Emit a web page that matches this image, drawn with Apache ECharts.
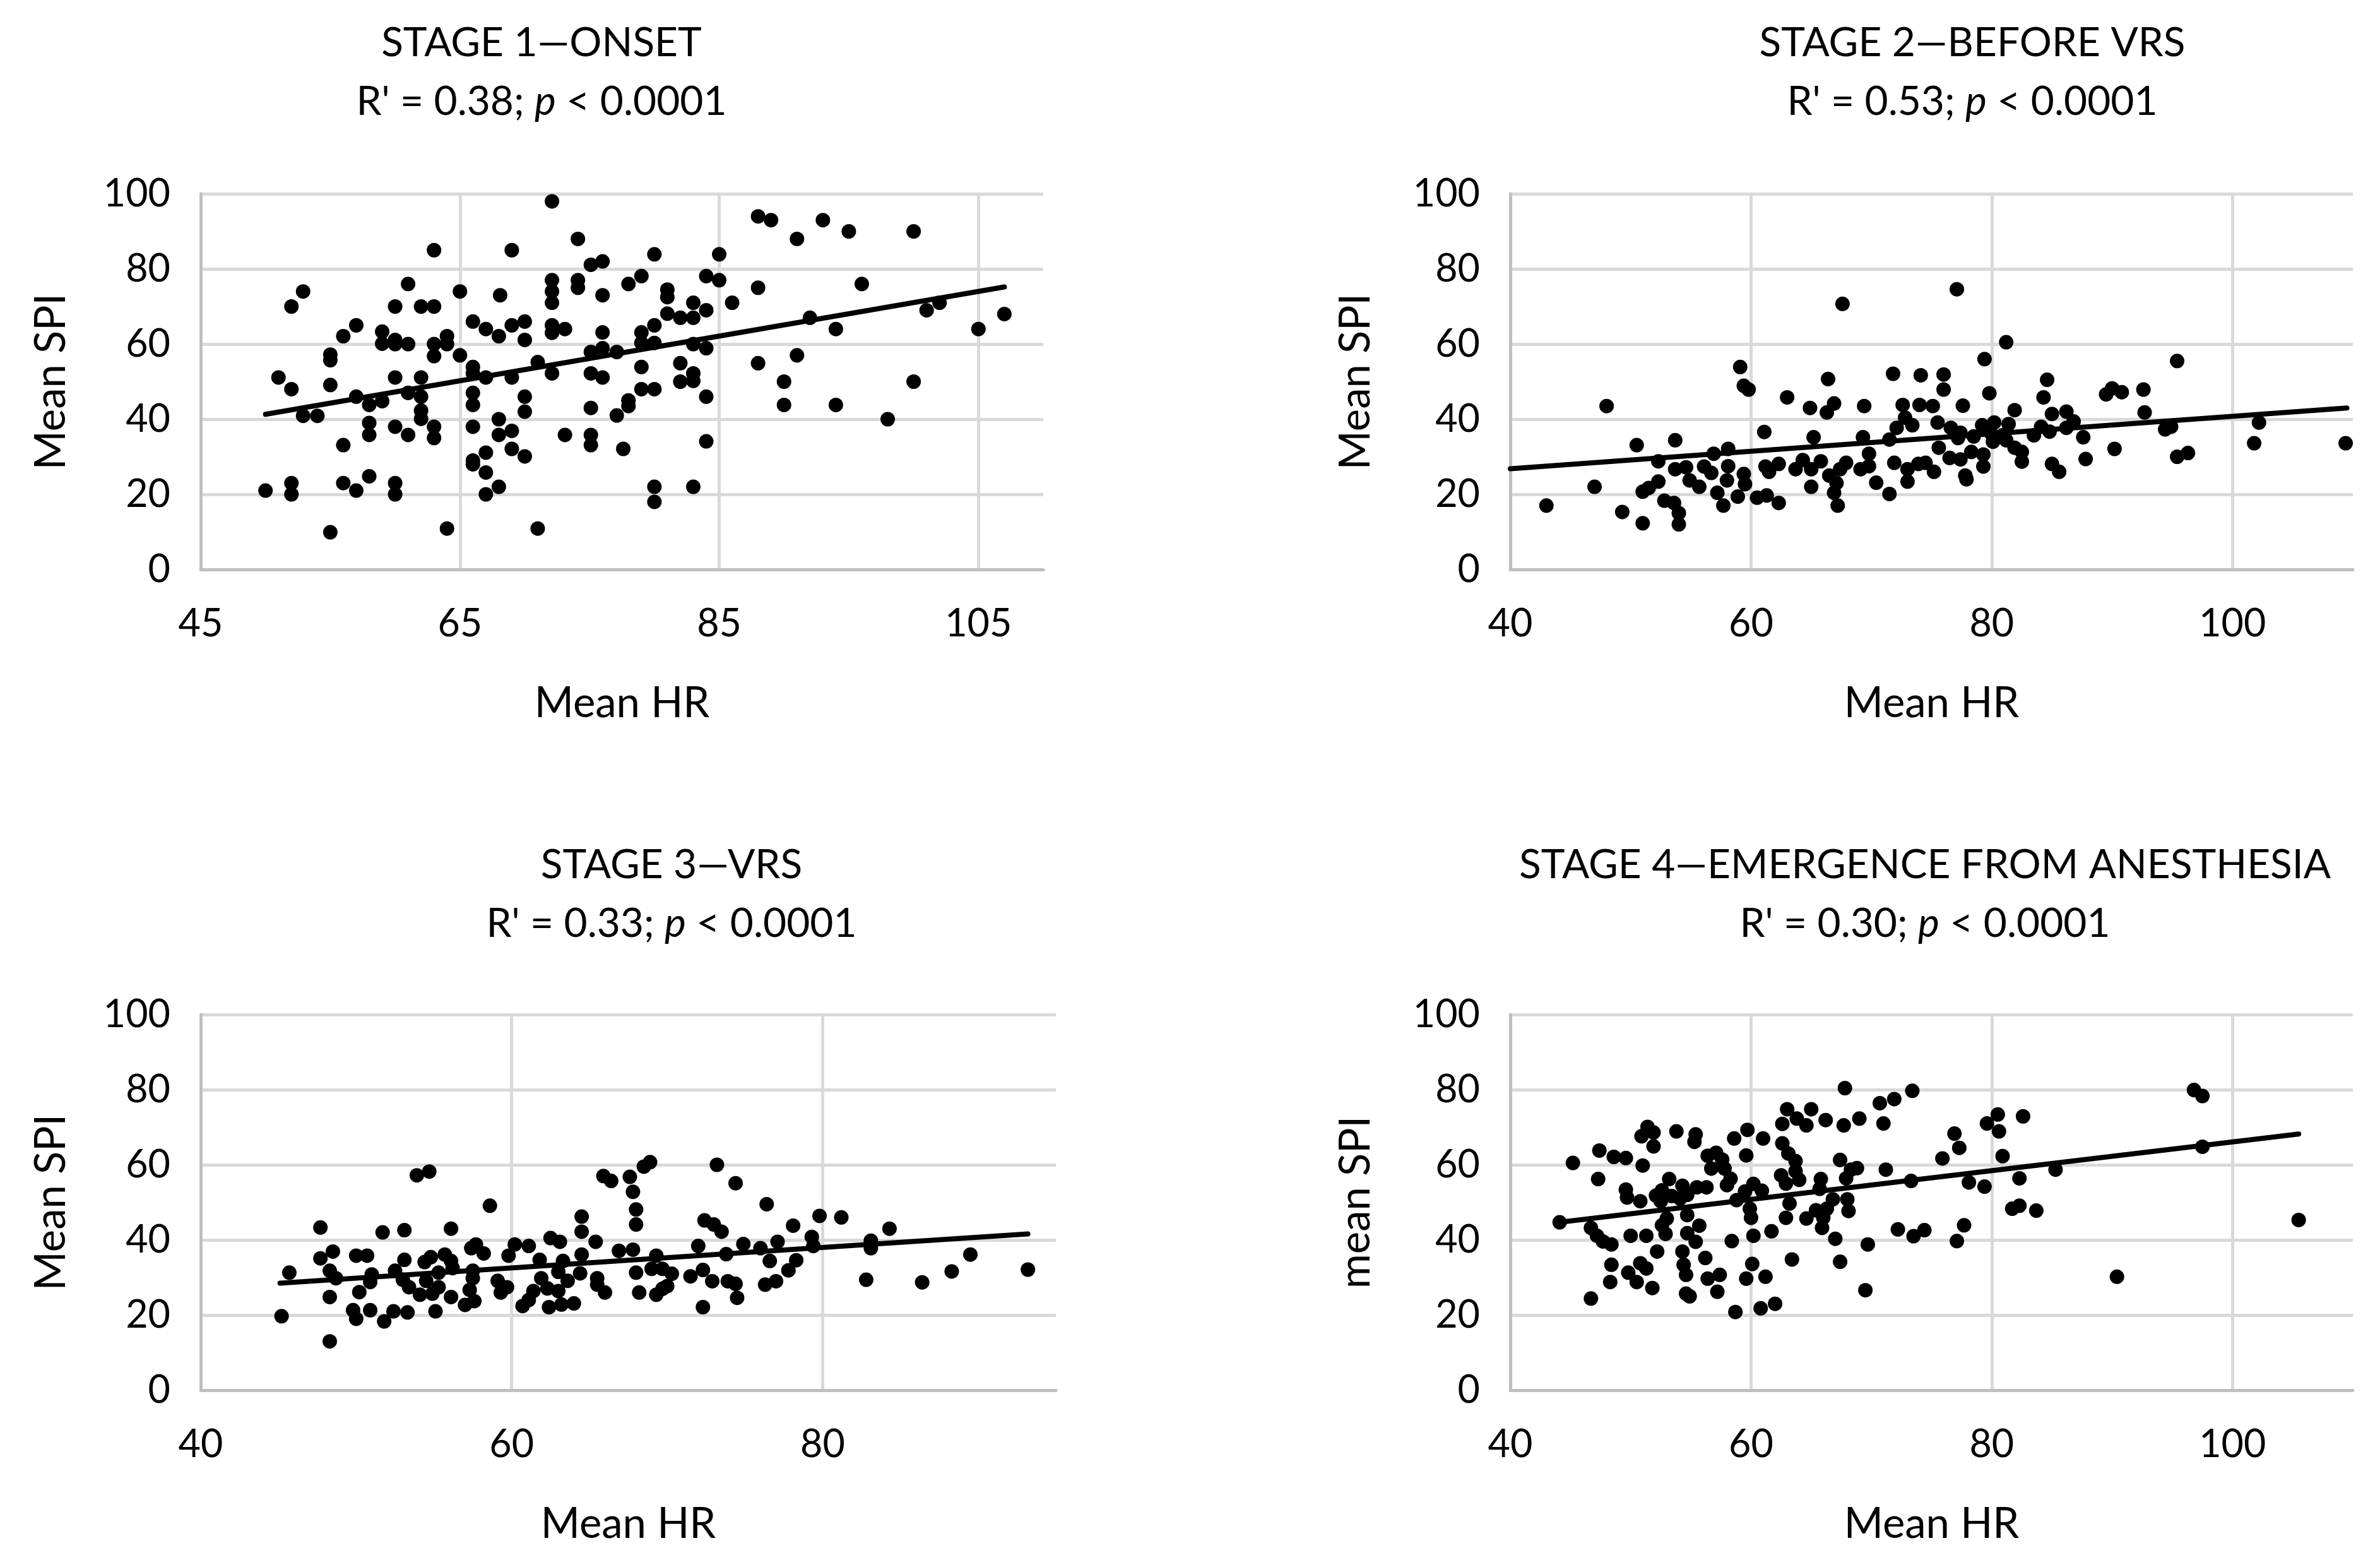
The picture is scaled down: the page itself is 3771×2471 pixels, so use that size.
<!DOCTYPE html>
<html><head><meta charset="utf-8">
<script src="https://cdn.jsdelivr.net/npm/echarts@6/dist/echarts.min.js"></script>
<style>html,body{margin:0;padding:0;background:#fff}#c{width:3771px;height:2471px}</style>
</head><body><div id="c"></div>
<script>
// ---------------- DATA ----------------
const panelTitles = ['STAGE 1\u2014ONSET', 'STAGE 2\u2014BEFORE VRS', 'STAGE 3\u2014VRS', 'STAGE 4\u2014EMERGENCE FROM ANESTHESIA'];
const rValues = ['0.38', '0.53', '0.33', '0.30'];
const pText = '0.0001';
const xAxisName = 'Mean HR';
const yAxisNames = ['Mean SPI', 'Mean SPI', 'Mean SPI', 'mean SPI'];
const xMins = [45, 40, 40, 40];
const xMaxs = [110, 110, 95, 110];
const xTickLabels = [[45, 65, 85, 105], [40, 60, 80, 100], [40, 60, 80], [40, 60, 80, 100]];
const yTickLabels = [0, 20, 40, 60, 80, 100];

const stage1Points = [
[72.1,98],[74.1,88],[63,85],[69,85],[75.1,81.1],[76,82],[72.1,77],[72.1,74],[72.1,71],[74.1,77],[74.1,75],[78,76],[61,76],[65,74],[68.1,73],[76,73],[52.9,74],[52,70],[60,70],[62,70],[63,70],[57,65],[56,62.1],[59,63.3],[59,60.1],[60,61.1],[60,60],[61,60],[63,60],[64,62.1],[64,60],[63,56.8],[65,57],[66,66],[67,64],[68,62.1],[69,65],[70,66],[70,61.1],[72.1,65],[72.1,63],[73.1,64],[76,63.1],[75.1,57.9],[76,58.9],[77.1,57.9],[55,57.2],[55,55.7],[51,51.1],[52,48],[55,49.1],[57,46],[58,43.8],[59,44.8],[60,51.1],[61,47],[62,51.1],[62,46],[66,53.9],[66,52.2],[67,51.1],[69,51.1],[71,55.2],[72.1,52.2],[75.1,52.2],[76,51.1],[66,47],[66,43.8],[70,46],[70,42],[75.1,43],[77.1,41],[52.9,40.9],[54,40.9],[58,39],[58,35.8],[60,38],[61,35.8],[62,42.3],[62,40.1],[63,38],[63,35],[66,38],[68,40],[68,35.8],[69,36.9],[69,32.1],[70,30.1],[67,31.1],[66,29],[66,28],[67,25.8],[67,20],[68,22],[73.1,35.8],[75.1,35.8],[75.1,33.1],[56,33.1],[50,21],[52,23],[52,20],[56,23],[57,21],[58,24.8],[60,23],[60,20],[55,9.9],[64,10.9],[71,10.9],
[79,78.1],[80,83.9],[85,83.9],[84,78.1],[85,77],[81,74.5],[81,72.5],[83,71],[84,69],[81,68.1],[82,67],[83,67],[80,65],[79,63.1],[79,60.3],[80,60.3],[83,60],[84,58.9],[86,71],[88,94],[89,93],[91,88],[93,93],[95,90],[100,90],[88,75],[96,76],[92,67],[94,64],[101,69],[102,71],[105,64],[107,68],[79,53.9],[82,54.9],[83,52.2],[83,50.2],[82,50],[79,48],[80,48],[78,45],[78,43.5],[84,46],[88,54.9],[91,57],[90,50],[90,43.8],[94,43.8],[100,50],[98,40],[77.6,32.1],[84,34.1],[80,22],[80,18],[83,22]
];
const stage2Points = [
[67.6,70.7],[59.1,53.9],[59.4,48.9],[59.8,47.9],[48,43.5],[63,45.8],[66.4,50.7],[64.9,43],[66.9,44.2],[66.3,41.8],[69.4,43.5],[71.8,52.1],[74.1,51.7],[76,51.9],[76,47.9],[72.6,43.8],[74,43.8],[75.1,43.5],[72.8,40.4],[73.4,38.4],[72.1,37.7],[75.5,39.1],[61.1,36.6],[65.2,35.2],[69.3,35.2],[71.5,34.6],[75.6,32.4],[50.5,33.1],[53.7,34.4],[58.1,32.1],[56.9,30.8],[52.3,28.8],[58.1,27.5],[53.7,26.7],[54.6,27.2],[56.1,27.4],[56.7,25.7],[54.9,23.7],[55.7,22],[58,23.7],[59.4,25.4],[59.5,22.7],[58.9,19.4],[57.2,20.4],[57.7,17],[52.3,23.4],[51.5,21.7],[51,20.7],[47,22],[43,17],[49.3,15.3],[51,12.3],[52.8,18.3],[53.6,17.7],[54,15],[54,12],[61.2,27.4],[62.3,28.1],[61.5,26],[60.5,19.1],[61.3,19.7],[62.3,17.7],[64.3,29.1],[63.7,26.7],[65,26.7],[65.8,28.8],[65,22],[66.5,25],[67.1,23],[66.9,20.4],[67.2,17],[67.9,28.4],[67.4,26.7],[69.1,26.7],[69.8,30.8],[69.8,27.5],[70.4,23.1],[71.5,20.1],[71.9,28.4],[73,26.7],[73,23.4],[73.9,28.1],[74.5,28.4],[75.2,26],
[77.1,74.6],[81.2,60.5],[79.4,56],[95.4,55.5],[79.8,46.9],[84.6,50.5],[84.3,45.8],[77.6,43.6],[81.9,42.4],[85,41.4],[86.2,42],[89.5,46.6],[90,48.2],[90.8,47.2],[92.6,47.9],[92.7,41.8],[102.2,39.1],[76.6,37.7],[77.4,36.4],[79.2,38.4],[80.2,39.1],[81.4,38.7],[79.9,36.4],[80.9,35.7],[84.1,38],[86.8,39.4],[86.2,37.7],[83.5,35.7],[84.8,36.7],[87.6,35.2],[77.2,35],[78.5,35.4],[80.1,34],[81.2,34.4],[81.9,32.4],[78.3,31.3],[79.3,30.6],[82.5,31.3],[82.5,28.7],[76.5,29.7],[77.4,29.3],[77.8,25],[77.9,24],[79.3,27.4],[85,28.1],[85.6,26],[87.8,29.4],[90.2,32.1],[94.4,37.3],[94.9,38],[95.4,30],[96.3,31],[101.8,33.6],[109.4,33.6]
];
const stage3Points = [
[53.9,57.2],[54.7,58.2],[58.6,49.1],[47.7,43.3],[51.7,42],[53.1,42.6],[56.1,43],[48.5,36.9],[47.7,35.1],[45.7,31.3],[48.3,31.8],[48.7,29.8],[50,35.8],[50.7,35.8],[51,30.8],[50.9,28.8],[50.2,26.1],[48.3,24.8],[45.2,19.7],[48.3,13],[49.8,21.3],[50,19],[50.9,21.3],[51.8,18.3],[52.4,21],[53.3,20.7],[55.1,21],[53.1,34.7],[52.5,31.8],[53,29.4],[53.4,27.4],[54.4,34.1],[54.8,35.4],[54.1,25.4],[54.9,25.7],[55.3,27.4],[55.7,36.1],[56.1,34.4],[55.3,31.3],[56.2,32.5],[54.5,29.1],[56.1,24.8],[57,22.7],[57.6,23.7],[57.3,26.7],[57.5,31.8],[57.5,29.8],[57.7,38.8],[57.4,37.8],[58.2,36.4],[59.1,29.1],[59.3,26],[59.7,27.4],[60.2,38.8],[59.8,35.8],[61.1,38.4],[60.7,22.4],[61.1,24],[62.5,40.5],[63.1,39.5],[64.5,46.2],[64.5,42.2],[65.4,39.5],[61.8,34.7],[63.3,34.4],[64.5,36.1],[61.9,29.8],[63,31.5],[63.6,29.1],[64.4,31.1],[65.5,29.8],[62.3,27.1],[63,26.4],[62.4,22.1],[63.2,22.8],[64,23.1],[61.4,26.4],[66,26],[65.5,28.1],[66.9,37.1],[65.9,57],[66.4,55.7],
[67.6,56.8],[68.5,59.5],[68.9,60.7],[67.8,52.8],[68,48.1],[68,44.1],[73.2,60],[74.4,55.1],[76.4,49.5],[72.4,45.2],[73,44.1],[73.5,42.2],[78.1,43.8],[79.8,46.4],[81.2,46],[84.3,43],[83.1,39.8],[83.1,37.8],[79.3,40.8],[79.4,38.4],[67.8,37.4],[72,38.4],[69.3,35.8],[74.9,38.9],[73.8,36.2],[76,37.8],[77.1,39.5],[76.6,34.4],[78.3,34.6],[77.8,31.9],[68,31.3],[69,32.3],[69.7,32.3],[70.3,31],[71.5,30.3],[72.3,32],[72.9,29],[73.9,29],[74.4,28.3],[70,27.7],[76.3,28.1],[77,29],[68.2,26],[69.3,25.4],[69.7,27],[74.5,24.6],[72.3,22.1],[82.8,29.4],[86.4,28.7],[88.3,31.6],[89.5,36.1],[93.2,32.1]
];
const stage4Points = [
[67.8,80.4],[73.4,79.7],[71.9,77.5],[70.7,76.4],[63,74.8],[65,74.8],[63.8,72.3],[66.2,71.9],[69,72.3],[62.6,70.9],[64.6,70.5],[67.7,70.5],[71,71],[51.4,70.1],[50.9,67.6],[51.9,68.6],[51.9,64.9],[53.8,68.9],[55.4,68.1],[55.3,66.1],[59.7,69.3],[58.6,67],[61,67],[59.6,62.5],[62.6,65.7],[63.1,63],[63.7,61],[67.4,61.3],[45.2,60.5],[47.4,63.8],[48.6,62.1],[49.6,61.8],[51,59.8],[47.3,56.2],[56.4,62.4],[57.1,63.2],[57.6,61.4],[56.7,59],[57.8,59],[58.3,56.3],[58,54.6],[62.5,57.2],[62.9,55],[63.7,58.3],[64,56],[65.8,56.2],[65.7,53.6],[68.3,58.7],[68.8,59.1],[67.9,56.4],[71.2,58.7],[73.3,55.7],[75.9,61.7],[49.6,53.4],[49.7,51.3],[50.8,50.3],[52.1,51.8],[53.2,56.2],[52.6,53.2],[53.4,51.7],[54.3,54.4],[54.7,52],[55.5,54],[56.3,54],[52.5,50.3],[54.1,51],[60.2,54.9],[60.9,53.1],[59.5,52.9],[58.8,50.6],[59.9,48.3],[63.2,49.7],[66.8,50.8],[68,50.8],[68.1,47.7],[66.3,48.3],[65.4,47.9],[64.6,45.7],[62.9,45.9],[66,45.9],[65.9,43.2],[60,45.9],[54.7,46.6],[53,45.7],[52.6,43.9],[44.1,44.7],[46.7,43.2],[47.2,41.1],[47.7,39.6],[48.4,38.8],[50,41.1],[51.3,41.1],[52.9,41.6],[54.7,41.8],[55.7,43.8],[55.4,39.5],[58.4,39.7],[60.2,41.1],[61.7,42.3],[67,40.3],[69.7,38.8],[72.2,42.8],[74.4,42.6],[73.5,41],[52.2,36.9],[54.3,36.9],[56.2,35.2],[48.4,33.4],[50.8,33.8],[51.3,32.4],[49.8,31.3],[54.4,33.4],[54.6,30.7],[56.4,29.7],[57.4,30.7],[60.1,33.6],[59.6,29.7],[61.2,30.2],[63.4,34.8],[67.4,34.2],[48.3,28.8],[50.5,28.8],[51.8,27.2],[54.6,25.7],[54.9,25],[57.2,26.2],[46.7,24.4],[69.5,26.6],[58.7,20.8],[60.8,21.8],[62,23],
[76.9,68.3],[77.3,64.5],[79.6,71],[80.5,73.4],[80.6,68.9],[82.6,72.9],[80.9,62.3],[96.8,79.9],[97.5,78.3],[97.5,64.8],[78.1,55.3],[79.4,54.2],[82.3,56.4],[85.3,58.7],[81.7,48.3],[82.3,49.1],[83.7,47.8],[77.7,43.9],[77.1,39.7],[90.4,30.2],[105.5,45.3]
];
// linear trendline end points
const stage1Trend = [[50, 41.3], [107, 75.2]];
const stage2Trend = [[40, 26.8], [109.5, 43.0]];
const stage3Trend = [[45.1, 28.5], [93.2, 41.6]];
const stage4Trend = [[44.1, 44.7], [105.5, 68.2]];

// ---------------- LAYOUT / STYLE ----------------
const FONT = 'Lato';
const points = [stage1Points, stage2Points, stage3Points, stage4Points];
const trends = [stage1Trend, stage2Trend, stage3Trend, stage4Trend];
const grids = [
  {left: 318, top: 307, width: 1335, height: 595},
  {left: 2393, top: 307, width: 1335, height: 595},
  {left: 318, top: 1607, width: 1355, height: 595},
  {left: 2393, top: 1607, width: 1335, height: 595}
];
const titlePos = [[858, 30], [3125, 30], [1064, 1332], [3050, 1332]];
const yNameGap = [197, 205, 197, 205];

const gridColor = '#d9d9d9', axisColor = '#bfbfbf';
const option = {
  backgroundColor: '#ffffff',
  animation: false,
  title: panelTitles.map((t, i) => ({
    text: t,
    subtext: "{n|R' = " + rValues[i] + "; }{i|p}{n| < " + pText + "}",
    left: titlePos[i][0], top: titlePos[i][1], textAlign: 'center', padding: 0, itemGap: 17,
    textStyle: {fontFamily: FONT, fontSize: 64, fontWeight: 'normal', color: '#000', lineHeight: 76},
    subtextStyle: {fontFamily: FONT, fontSize: 64, color: '#000', lineHeight: 76,
      rich: {
        n: {fontFamily: FONT, fontSize: 64, color: '#000', lineHeight: 76},
        i: {fontFamily: FONT, fontSize: 64, color: '#000', fontStyle: 'italic', lineHeight: 76}
      }}
  })),
  grid: grids,
  xAxis: grids.map((g, i) => ({
    type: 'value', gridIndex: i, min: xMins[i], max: xMaxs[i], interval: 20,
    name: xAxisName, nameLocation: 'middle', nameGap: 172,
    nameTextStyle: {fontFamily: FONT, fontSize: 67, color: '#000', lineHeight: 80},
    axisLine: {show: true, onZero: false, lineStyle: {color: axisColor, width: 5}},
    axisTick: {show: false},
    axisLabel: {fontFamily: FONT, fontSize: 61, color: '#000', margin: 56, showMaxLabel: xTickLabels[i].includes(xMaxs[i]),
      formatter: v => (xTickLabels[i].includes(v) ? String(v) : '')},
    splitLine: {show: true, showMaxLine: false, lineStyle: {color: gridColor, width: 5}}
  })),
  yAxis: grids.map((g, i) => ({
    type: 'value', gridIndex: i, min: 0, max: 100, interval: 20,
    name: yAxisNames[i], nameLocation: 'middle', nameGap: yNameGap[i], nameRotate: 90,
    nameTextStyle: {fontFamily: FONT, fontSize: 67, color: '#000', lineHeight: 80},
    axisLine: {show: true, onZero: false, lineStyle: {color: axisColor, width: 5}},
    axisTick: {show: false},
    axisLabel: {fontFamily: FONT, fontSize: 61, color: '#000', margin: 48,
      formatter: v => (yTickLabels.includes(v) ? String(v) : '')},
    splitLine: {show: true, lineStyle: {color: gridColor, width: 5}}
  })),
  series: []
};
points.forEach((p, i) => {
  option.series.push({
    type: 'scatter', xAxisIndex: i, yAxisIndex: i, data: p,
    symbol: 'circle', symbolSize: 23, itemStyle: {color: '#000', opacity: 1}, silent: true
  });
  option.series.push({
    type: 'line', xAxisIndex: i, yAxisIndex: i, data: trends[i],
    symbol: 'none', lineStyle: {color: '#000', width: 8, cap: 'round'}, silent: true, z: 3
  });
});
const chart = echarts.init(document.getElementById('c'), null, {renderer: 'canvas'});
chart.setOption(option);
</script>
</body></html>
